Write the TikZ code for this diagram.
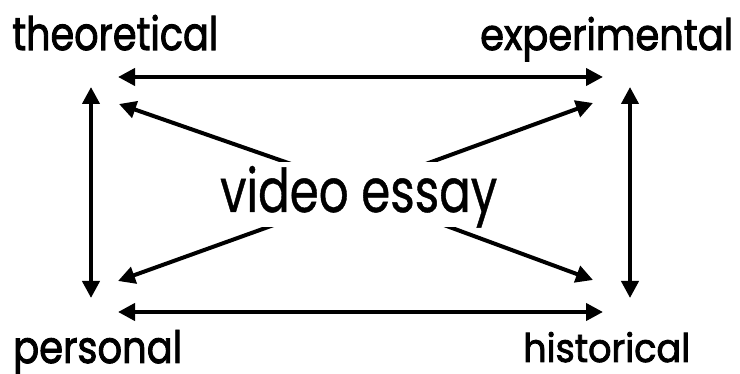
\documentclass[tikz,border=0pt]{standalone}
\usepackage{fontspec}
\setmainfont{Poppins}
\newfontfamily\lblfont{Poppins}[FakeBold=2.2]
\newfontfamily\cenfont{Poppins}[FakeBold=0.8]
\usepackage{graphicx}
\usetikzlibrary{arrows.meta}
\tikzset{
  conn/.style={line width=4pt, -{Triangle[length=17pt,width=17pt]}},
  biconn/.style={line width=4pt, {Triangle[length=17pt,width=17pt]}-{Triangle[length=17pt,width=17pt]}},
  lbl/.style={inner sep=0pt, anchor=base west, font=\lblfont},
}
\begin{document}
\begin{tikzpicture}[x=1pt,y=-1pt]
\useasboundingbox[fill=white] (0,0) rectangle (740,374);
% labels
\node[lbl] (theo) at (12,50) {\resizebox{206pt}{35pt}{theoretical}};
\node[lbl] (expe) at (480,50) {\resizebox{253pt}{33pt}{experimental}};
\node[lbl] (pers) at (13,363) {\resizebox{169pt}{33pt}{personal}};
\node[lbl] (hist) at (523,362) {\resizebox{167pt}{30pt}{historical}};
% arrow end points
\coordinate (tlh) at (118,77);
\coordinate (trh) at (603,77);
\coordinate (blh) at (118,312);
\coordinate (brh) at (603,312);
\coordinate (tlv) at (91,87);
\coordinate (blv) at (91,298);
\coordinate (trv) at (630,87);
\coordinate (brv) at (630,298);
\coordinate (tld) at (119,104);
\coordinate (trd) at (593,103);
\coordinate (bld) at (118,281);
\coordinate (brd) at (593,280);
\coordinate (ctop) at (360,188);
\coordinate (cbot) at (360,194);
% frame arrows
\draw[biconn] (tlh) -- (trh);
\draw[biconn] (blh) -- (brh);
\draw[biconn] (tlv) -- (blv);
\draw[biconn] (trv) -- (brv);
% diagonal arrows
\draw[conn] (ctop) -- (tld);
\draw[conn] (ctop) -- (trd);
\draw[conn] (cbot) -- (bld);
\draw[conn] (cbot) -- (brd);
% centre
\node[inner sep=0pt, anchor=base west, font=\cenfont, fill=white, text height=50pt, text depth=15pt] (ve) at (220,212) {\resizebox{277pt}{46pt}{video essay}};
\end{tikzpicture}
\end{document}
